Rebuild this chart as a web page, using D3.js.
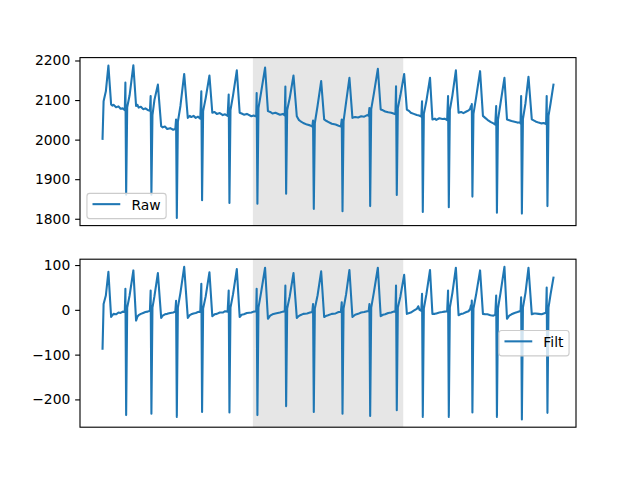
<!DOCTYPE html>
<html><head><meta charset="utf-8">
<script src="https://cdn.jsdelivr.net/npm/d3@7"></script>
<style>body{margin:0;background:#fff}svg{display:block}text{font-family:"DejaVu Sans",sans-serif}</style>
</head><body><svg id="c" width="640" height="480"></svg>
<script>
// [sample index, value]
const rawSignal = [
[0,2002],[7,2097],[22,2122],[39,2187],[57,2089],[65,2086],[73,2088],[90,2082],[106,2084],[120,2078],[135,2079],[148,2074],
[152,2144],[157,1861],[164,2082],[180,2112],[205,2188],[223,2085],[232,2088],[240,2081],[255,2083],[270,2077],[285,2079],[300,2075],[315,2073],
[320,2110],[325,1861],[332,2062],[345,2100],[368,2139],[390,2034],[400,2031],[415,2033],[430,2027],[450,2029],[470,2025],[484,2027],
[489,2051],[494,1802],[501,2045],[518,2085],[543,2166],[567,2055],[580,2060],[590,2057],[605,2060],[620,2055],[635,2058],[650,2053],
[657,2122],[662,1847],[669,2072],[686,2105],[711,2162],[730,2068],[745,2070],[760,2065],[780,2067],[800,2062],[815,2064],[832,2060],
[839,2114],[844,1840],[851,2075],[868,2112],[893,2175],[912,2068],[925,2066],[940,2063],[960,2065],[990,2059],[1005,2061],[1022,2058],
[1025,2118],[1030,1838],[1037,2080],[1054,2118],[1081,2182],[1100,2072],[1115,2070],[1130,2066],[1150,2068],[1180,2063],[1200,2065],[1212,2061],
[1216,2134],[1221,1863],[1228,2075],[1245,2105],[1270,2162],[1292,2059],[1305,2050],[1315,2047],[1335,2042],[1360,2038],[1380,2036],[1395,2033],
[1400,2048],[1405,1825],[1412,2042],[1430,2085],[1454,2148],[1474,2051],[1490,2047],[1500,2045],[1525,2040],[1550,2038],[1570,2035],[1585,2033],
[1591,2051],[1596,1819],[1603,2047],[1620,2095],[1642,2156],[1662,2055],[1680,2057],[1700,2056],[1720,2059],[1740,2058],[1760,2062],[1770,2060],
[1775,2080],[1780,1832],[1787,2077],[1804,2115],[1831,2179],[1850,2076],[1865,2074],[1880,2071],[1900,2069],[1920,2068],[1935,2066],[1948,2064],
[1952,2135],[1957,1860],[1964,2080],[1981,2112],[2006,2166],[2024,2076],[2040,2072],[2050,2068],[2070,2065],[2090,2062],[2105,2061],[2120,2058],
[2125,2097],[2130,1817],[2137,2065],[2154,2098],[2178,2156],[2194,2051],[2210,2053],[2220,2050],[2240,2054],[2260,2052],[2275,2053],[2292,2049],
[2298,2110],[2303,1829],[2310,2075],[2327,2112],[2350,2175],[2368,2068],[2385,2070],[2400,2067],[2420,2071],[2435,2074],[2445,2078],[2450,2085],[2453,2076],
[2456,2090],[2460,1856],[2467,2065],[2484,2105],[2511,2173],[2530,2060],[2545,2055],[2560,2050],[2580,2045],[2600,2041],[2612,2038],
[2618,2085],[2623,1815],[2630,2050],[2647,2092],[2673,2156],[2690,2051],[2705,2049],[2720,2047],[2740,2045],[2760,2043],[2775,2044],[2780,2041],
[2784,2110],[2789,1813],[2796,2052],[2813,2092],[2833,2159],[2855,2051],[2870,2048],[2880,2046],[2900,2043],[2920,2041],[2935,2042],[2950,2039],
[2954,2110],[2959,1832],[2966,2060],[2980,2092],[2999,2139]
];
const filtSignal = [
[0,-87],[7,13],[22,32],[39,85],[57,-16],[65,-12],[73,-9],[90,-10],[106,-6],[120,-7],[135,-4],[148,-5],
[152,47],[157,-235],[164,5],[180,32],[205,88],[223,-24],[232,-15],[240,-12],[255,-9],[270,-7],[285,-5],[300,-4],[315,-2],
[320,43],[325,-232],[332,5],[345,30],[368,82],[390,-18],[400,-13],[415,-10],[430,-9],[450,-7],[470,-6],[484,-4],
[489,20],[494,-239],[501,5],[518,38],[543,96],[567,-18],[580,-12],[590,-10],[605,-8],[620,-7],[635,-5],[650,-4],
[657,58],[662,-228],[669,3],[686,30],[711,84],[730,-14],[745,-10],[760,-9],[780,-6],[800,-6],[815,-3],[832,-4],
[839,43],[844,-229],[851,5],[868,35],[893,91],[912,-16],[925,-11],[940,-10],[960,-7],[990,-6],[1005,-4],[1022,-3],
[1025,47],[1030,-235],[1037,5],[1054,38],[1081,94],[1100,-20],[1115,-13],[1130,-10],[1150,-8],[1180,-6],[1200,-4],[1212,-3],
[1216,54],[1221,-215],[1228,3],[1245,30],[1270,82],[1292,-18],[1305,-14],[1315,-12],[1335,-9],[1360,-8],[1380,-6],[1395,-5],
[1400,13],[1405,-228],[1412,3],[1430,32],[1454,86],[1474,-16],[1490,-13],[1500,-12],[1525,-9],[1550,-8],[1570,-5],[1585,-5],
[1591,17],[1596,-232],[1603,3],[1620,35],[1642,89],[1662,-16],[1680,-11],[1700,-9],[1720,-6],[1740,-5],[1760,-3],[1770,-3],
[1775,13],[1780,-237],[1787,5],[1804,38],[1831,94],[1850,-14],[1865,-11],[1880,-10],[1900,-7],[1920,-6],[1935,-4],[1948,-4],
[1952,54],[1957,-224],[1964,5],[1981,30],[2006,78],[2024,-9],[2040,-7],[2050,-6],[2070,-2],[2090,2],[2100,8],[2108,0],[2120,-2],
[2125,36],[2130,-239],[2137,3],[2154,35],[2178,89],[2194,-9],[2210,-9],[2220,-8],[2240,-6],[2260,-5],[2275,-4],[2292,-3],
[2298,43],[2303,-239],[2310,5],[2327,38],[2350,94],[2368,-12],[2385,-9],[2400,-8],[2420,-5],[2435,-3],[2445,2],[2450,10],[2453,0],
[2456,21],[2460,-229],[2467,3],[2484,33],[2511,88],[2530,-9],[2545,-10],[2560,-10],[2580,-12],[2600,-13],[2612,-11],
[2618,32],[2623,-239],[2630,3],[2647,38],[2673,96],[2690,-20],[2705,-13],[2720,-10],[2740,-7],[2760,-5],[2775,-3],[2780,-3],
[2784,28],[2789,-245],[2796,5],[2813,38],[2833,94],[2855,-10],[2870,-8],[2880,-8],[2900,-9],[2920,-10],[2935,-8],[2950,-6],
[2954,50],[2959,-230],[2966,5],[2980,35],[2999,72]
];
const rawTicks = [1800, 1900, 2000, 2100, 2200];
const filtTicks = [-200, -100, 0, 100];
const shadeSpan = [1000, 2000];
const legendLabels = ["Raw", "Filt"];

const svg = d3.select("#c");
const left = 80, right = 576;
const fs = 13.89, lw = 1.11;
const panels = [
  {data: rawSignal, ticks: rawTicks, top: 57.6, bottom: 225.6, label: legendLabels[0], loc: "ll"},
  {data: filtSignal, ticks: filtTicks, top: 259.2, bottom: 427.2, label: legendLabels[1], loc: "cr"}
];
function padExtent(e) { const d = (e[1] - e[0]) * 0.05; return [e[0] - d, e[1] + d]; }
const x = d3.scaleLinear().domain(padExtent(d3.extent(rawSignal, d => d[0]))).range([left, right]);

panels.forEach(p => {
  const y = d3.scaleLinear().domain(padExtent(d3.extent(p.data, d => d[1]))).range([p.bottom, p.top]);
  const g = svg.append("g");
  g.append("rect")
    .attr("x", x(shadeSpan[0])).attr("width", x(shadeSpan[1]) - x(shadeSpan[0]))
    .attr("y", p.top).attr("height", p.bottom - p.top)
    .attr("fill", "#808080").attr("fill-opacity", 0.2);
  g.append("path").datum(p.data)
    .attr("d", d3.line().x(d => x(d[0])).y(d => y(d[1])))
    .attr("fill", "none").attr("stroke", "#1f77b4").attr("stroke-width", 2.08)
    .attr("stroke-linejoin", "round").attr("stroke-linecap", "square");
  const ax = g.append("g").attr("transform", `translate(${left},0)`)
    .call(d3.axisLeft(y).tickValues(p.ticks).tickSize(4.86).tickPadding(4.86).tickFormat(d3.format("d")));
  ax.select(".domain").remove();
  ax.selectAll(".tick line").attr("stroke", "#000").attr("stroke-width", lw);
  ax.selectAll(".tick text").attr("fill", "#000").style("font-size", fs + "px").style("font-family", "DejaVu Sans");
  g.append("rect").attr("x", left).attr("y", p.top).attr("width", right - left).attr("height", p.bottom - p.top)
    .attr("fill", "none").attr("stroke", "#000").attr("stroke-width", lw);

  // legend
  const lg = g.append("g");
  const txt = lg.append("text").text(p.label).style("font-size", fs + "px").attr("fill", "#000");
  const tw = txt.node().getComputedTextLength();
  const bp = 0.4 * fs, hl = 2.0 * fs, htp = 0.8 * fs, bap = 0.5 * fs;
  const w = 2 * bp + hl + htp + tw, h = 25.3;
  let bx, by;
  if (p.loc === "ll") { bx = left + bap; by = p.bottom - bap - h; }
  else { bx = right - bap - w; by = (p.top + p.bottom) / 2 - h / 2; }
  lg.insert("rect", "text").attr("x", bx).attr("y", by).attr("width", w).attr("height", h)
    .attr("rx", 2.8).attr("fill", "#fff").attr("fill-opacity", 0.8)
    .attr("stroke", "#cccccc").attr("stroke-width", lw);
  lg.insert("line", "text").attr("x1", bx + bp).attr("x2", bx + bp + hl)
    .attr("y1", by + 10.8).attr("y2", by + 10.8)
    .attr("stroke", "#1f77b4").attr("stroke-width", 2.08);
  txt.attr("x", bx + bp + hl + htp).attr("y", by + 16.6);
});
</script></body></html>
